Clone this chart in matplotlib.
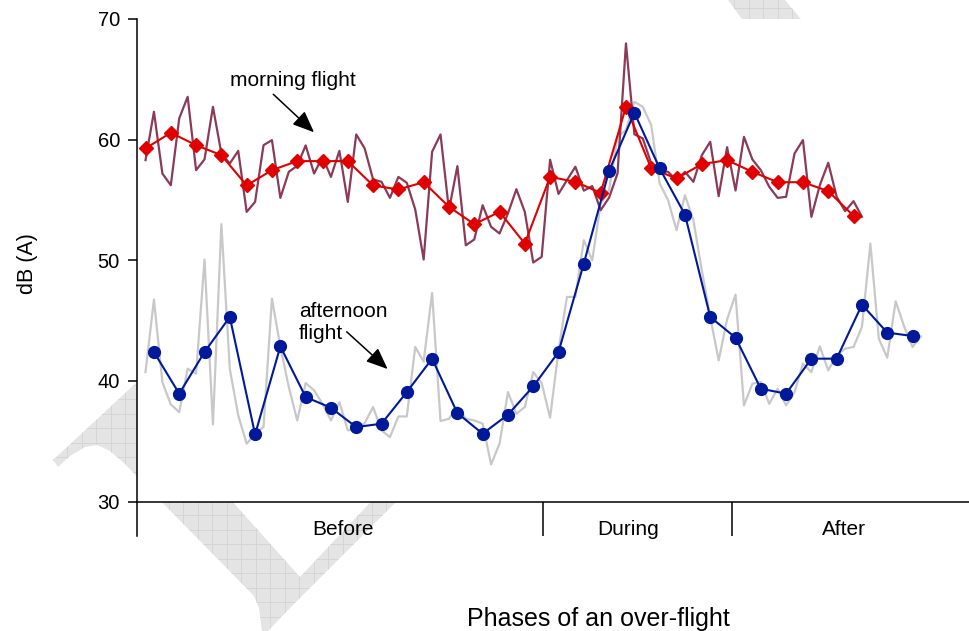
import matplotlib.pyplot as plt
import matplotlib.patches as mpatches
from matplotlib.collections import LineCollection
import numpy as np

plt.rcParams['font.family'] = ['Liberation Sans', 'DejaVu Sans']

# Leituras brutas, uma por amostra (dB(A))
morning_raw = [58.3, 62.31, 57.19, 56.22, 61.76, 63.55, 57.47, 58.36, 62.72, 58.85,
               58.02, 59.07, 54.01, 54.84, 59.54, 59.96, 55.17, 57.33, 57.83, 59.52,
               57.19, 58.57, 56.91, 59.07, 54.84, 60.43, 59.27, 56.70, 56.50, 55.17,
               56.91, 56.42, 54.21, 50.06, 58.99, 60.43, 54.15, 57.80, 51.24, 51.72,
               54.56, 52.77, 52.22, 53.88, 55.89, 54.01, 49.81, 50.28, 58.33, 55.50,
               56.64, 57.75, 55.77, 56.15, 54.15, 55.19, 57.19, 67.98, 60.44, 60.10,
               58.02, 57.40, 57.33, 56.64, 57.33, 56.50, 58.71, 59.82, 55.31, 59.37,
               55.78, 60.23, 58.36, 57.47, 56.09, 55.17, 55.26, 58.85, 59.96, 53.60,
               56.22, 58.08, 55.26, 54.07, 54.90, 53.60]
afternoon_raw = [40.73, 46.74, 39.90, 38.05, 37.41, 41.01, 40.60, 50.06, 36.39, 52.99,
                 41.0, 37.14, 34.79, 35.62, 36.17, 46.82, 42.81, 39.49, 36.72, 39.82,
                 39.21, 38.10, 36.72, 38.24, 35.90, 36.00, 36.50, 37.83, 35.89, 35.34,
                 37.05, 37.05, 42.81, 41.60, 47.29, 36.67, 36.86, 37.83, 36.86, 36.72,
                 36.45, 33.07, 34.79, 39.07, 37.28, 37.83, 40.73, 39.82, 36.95, 42.53,
                 46.96, 46.96, 51.66, 50.00, 54.70, 55.81, 60.23, 60.79, 63.14, 62.72,
                 61.20, 56.36, 54.98, 52.49, 55.39, 53.32, 49.17, 45.30, 41.70, 45.10,
                 47.15, 37.97, 39.76, 39.90, 38.10, 39.35, 37.97, 39.07, 41.43, 40.73,
                 42.86, 40.87, 42.12, 42.67, 42.81, 44.47, 51.38, 43.50, 41.92, 46.60,
                 44.52, 42.81, 43.69]

# Medias, uma a cada 3 amostras
morning_mean = [59.27, 60.57, 59.54, 58.71, 56.20, 57.47, 58.22, 58.22, 58.22, 56.20,
                55.87, 56.47, 54.43, 52.99, 54.01, 51.38, 56.91, 56.50, 55.59, 62.72,
                57.61, 56.78, 57.97, 58.30, 57.33, 56.47, 56.47, 55.73, 53.68]
afternoon_mean = [42.39, 38.94, 42.39, 45.30, 35.56, 42.86, 38.66, 37.77, 36.17, 36.45,
                  39.07, 41.84, 37.33, 35.62, 37.20, 39.54, 42.39, 49.73, 57.41, 62.23,
                  57.61, 53.79, 45.30, 43.58, 39.35, 38.94, 41.84, 41.84, 46.32, 44.00,
                  43.72]

phases = ['Before', 'During', 'After']
phase_edges = [47.15, 69.57]   # em amostras

x_morning = np.arange(len(morning_raw))
x_afternoon = np.arange(len(afternoon_raw))
x_morning_mean = np.arange(len(morning_mean)) * 3
x_afternoon_mean = np.arange(len(afternoon_mean)) * 3 + 1

W, H = 969, 631
fig = plt.figure(figsize=(W / 100, H / 100), dpi=100)

# marca d'agua cinza ao fundo (so aparece fora dos eixos)
def px(pts):
    return [(x / W, 1 - y / H) for x, y in pts]

shapes = [
    [(53, 460), (150, 370), (150, 490), (125, 464), (110, 451), (97, 445), (85, 447), (70, 456), (58, 467)],
    [(150, 490), (222, 490), (300, 577), (382, 490), (408, 490), (292, 606), (268, 631), (262, 631),
     (259, 608), (254, 596)],
    [(728, 0), (785, 0), (810, 30), (750, 30)],
]
step = 14.5
gx = np.arange(183.3 - 14 * step, W, step)
gy = np.arange(515 - 36 * step, H, step)
segs = [px([(x, 0), (x, H)]) for x in gx] + [px([(0, y), (W, y)]) for y in gy]
for s in shapes:
    poly = mpatches.Polygon(px(s), closed=True, transform=fig.transFigure,
                            facecolor='#e4e4e4', linewidth=0, zorder=-5)
    fig.patches.append(poly)
    grid = LineCollection(segs, colors='#d3d3d3', linewidths=0.6,
                          transform=fig.transFigure, zorder=-4)
    grid.set_clip_path(poly)
    fig.add_artist(grid)

ax = fig.add_axes([137 / W, 1 - 501.5 / H, (W - 137) / W, (501.5 - 19) / H])
ax.set_facecolor('white')

ax.plot(x_afternoon, afternoon_raw, color='#c8c8c8', lw=1.6, zorder=2)
ax.plot(x_morning, morning_raw, color='#8b3a57', lw=1.6, zorder=3)
ax.plot(x_morning_mean, morning_mean, color='#e00000', lw=1.5, marker='D', ms=7,
        mec='#e00000', mfc='#e00000', zorder=4)
ax.plot(x_afternoon_mean, afternoon_mean, color='#00199b', lw=1.5, marker='o', ms=8.5,
        mec='#00199b', mfc='#00199b', zorder=5)

ax.set_xlim(-1.01, 97.7)
ax.set_ylim(30, 70)

for side in ['top', 'right']:
    ax.spines[side].set_visible(False)
ax.spines['left'].set_bounds(27.1, 70)
ax.spines['left'].set_linewidth(1.1)
ax.spines['bottom'].set_linewidth(1.1)

ax.set_yticks([30, 40, 50, 60, 70])
ax.tick_params(axis='y', length=6.5, width=1.1, pad=5.8, labelsize=14.5)
ax.set_xticks(phase_edges)
ax.set_xticklabels([])
ax.tick_params(axis='x', length=24.5, width=1.1, direction='out')

label_x = [23.43, 57.24, 82.82]
for xp, name in zip(label_x, phases):
    ax.text(xp, -0.069, name, transform=ax.get_xaxis_transform(),
            ha='center', va='baseline', fontsize=15)

# anotacoes
ax.text(17.53, 64.44, 'morning flight', ha='center', va='baseline', fontsize=15)
ax.annotate('', xy=(19.99, 60.61), xytext=(15.16, 63.76),
            arrowprops=dict(arrowstyle='-|>,head_length=0.6,head_width=0.25',
                            mutation_scale=22, color='black', lw=1.1,
                            shrinkA=0, shrinkB=0))
ax.text(18.21, 45.31, 'afternoon', ha='left', va='baseline', fontsize=15)
ax.text(18.21, 43.47, 'flight', ha='left', va='baseline', fontsize=15)
ax.annotate('', xy=(28.73, 40.98), xytext=(23.87, 44.07),
            arrowprops=dict(arrowstyle='-|>,head_length=0.6,head_width=0.25',
                            mutation_scale=22, color='black', lw=1.1,
                            shrinkA=0, shrinkB=0))

fig.text(27 / W, 1 - 264 / H, 'dB (A)', rotation=90, ha='center', va='center', fontsize=15.5)
fig.text(598 / W, 1 - 626 / H, 'Phases of an over-flight', ha='center', va='baseline', fontsize=18)

fig.savefig('out.png', dpi=100)
